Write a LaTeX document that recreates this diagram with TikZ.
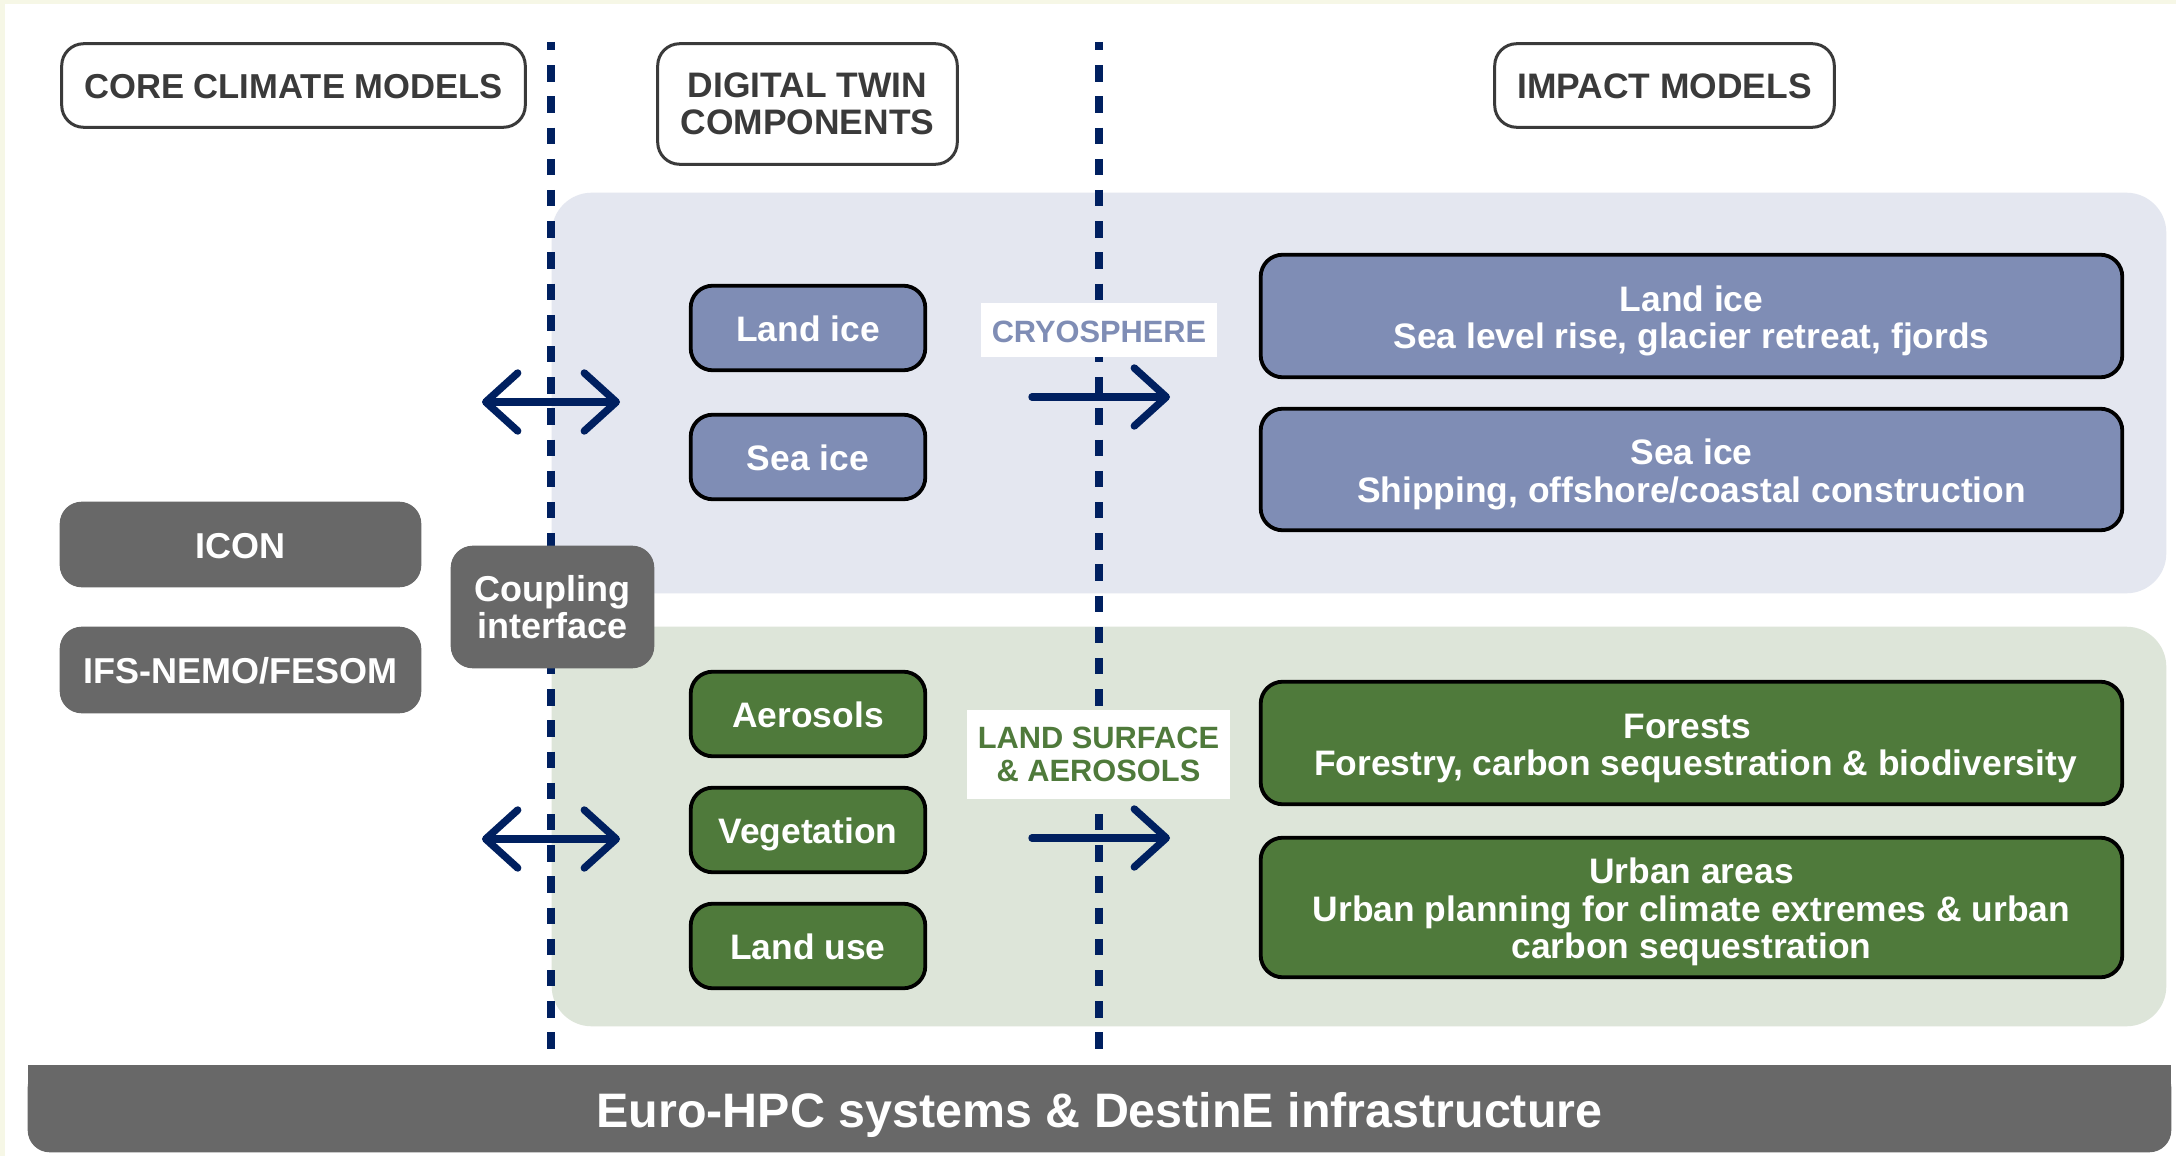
\documentclass[tikz,border=0pt]{standalone}
\usepackage{fontspec}
\setmainfont{Liberation Sans}
\usetikzlibrary{arrows.meta}
\definecolor{navy}{HTML}{002060}
\definecolor{cream}{HTML}{F6F7E6}
\definecolor{bluepanel}{HTML}{E4E7F0}
\definecolor{greenpanel}{HTML}{DDE5D9}
\definecolor{bluebox}{HTML}{7F8DB5}
\definecolor{greenbox}{HTML}{4F7A3B}
\definecolor{greybox}{HTML}{686868}
\definecolor{inkgrey}{HTML}{3A3A3A}
\newcommand{\fsA}{\fontsize{17.7}{18.75}\selectfont\bfseries}
\newcommand{\fsB}{\fontsize{18}{18.75}\selectfont\bfseries}
\newcommand{\fsS}{\fontsize{17.7}{18.75}\selectfont\bfseries}
\newcommand{\fsC}{\fontsize{24.2}{28}\selectfont\bfseries}
\newcommand{\fsL}{\fontsize{15.4}{16.5}\selectfont\bfseries}
\newcommand{\dn}{\rule{0pt}{17.5pt}}
% #1 style, #2 name, #3-#6 x1 y1 x2 y2 in image pixels, #7 text
\newcommand{\pxbox}[7]{%
  \pgfmathsetmacro{\cxx}{(#3+#5)/2}%
  \pgfmathsetmacro{\cyy}{(#4+#6)/2}%
  \pgfmathsetmacro{\www}{(#5-#3)/2-0.7}%
  \pgfmathsetmacro{\hhh}{(#6-#4)/2-0.7}%
  \node[#1,minimum width=\www pt,minimum height=\hhh pt] (#2) at (\cxx,\cyy) {#7};%
}
\tikzset{
  x=0.5pt,y=-0.5pt,
  base/.style={rectangle,align=center,inner sep=0pt,outer sep=0pt,rounded corners=11pt},
  one line/.style={text height=15pt,text depth=1.5pt},
  header/.style={base,draw=inkgrey,line width=1.5pt,fill=white,text=inkgrey,font=\fsA},
  small blue/.style={base,draw=black,line width=1.9pt,fill=bluebox,text=white,font=\fsS},
  small green/.style={base,draw=black,line width=1.9pt,fill=greenbox,text=white,font=\fsS},
  model/.style={base,fill=greybox,text=white,font=\fsB},
  tag/.style={rectangle,fill=white,align=center,inner sep=0pt,font=\fsL},
  divider/.style={draw=navy,line width=3.8pt,dash pattern=on 8.2pt off 7.4pt,dash phase=4pt},
  flow/.style={draw=navy,line width=3.7pt,line cap=round,line join=round},
  panelshape/.style={rectangle,inner sep=0pt,outer sep=0pt,rounded corners=20pt},
}
\begin{document}
\begin{tikzpicture}
\useasboundingbox (0,0) rectangle (2176,1156);
\fill[white] (0,0) rectangle (2176,1156);
\fill[cream] (0,0) rectangle (2176,4.5);
\fill[cream] (0,0) rectangle (5,1156);
% panels
\pxbox{panelshape,fill=bluepanel}{panelblue}{551}{192}{2167}{594}{}
\pxbox{panelshape,fill=greenpanel}{panelgreen}{551}{626}{2167}{1027}{}
% dividers
\coordinate (d1t) at (551,42); \coordinate (d1b) at (551,1051);
\coordinate (d2t) at (1099,42); \coordinate (d2b) at (1099,1051);
\draw[divider] (d1t) -- (d1b);
\draw[divider] (d2t) -- (d2b);
% headers
\pxbox{header,one line,font=\fontsize{17.3}{18.75}\selectfont\bfseries}{hcore}{61}{43}{526}{128}{CORE CLIMATE MODELS}
\pxbox{header}{hdt}{657}{43}{958}{165}{DIGITAL TWIN\\COMPONENTS}
\pxbox{header,one line}{himp}{1494}{43}{1835}{128}{IMPACT MODELS}
% tags
\pxbox{tag,text=bluebox,text height=13.5pt,text depth=1.5pt}{tcryo}{980}{302}{1218}{358}{CRYOSPHERE}
\pxbox{tag,text=greenbox}{tland}{966}{709}{1231}{800}{LAND SURFACE\\\& AEROSOLS}
% arrows
\coordinate (a1l) at (482,402); \coordinate (a1r) at (620,402);
\coordinate (a2l) at (482,839); \coordinate (a2r) at (620,839);
\coordinate (a3l) at (1032,397); \coordinate (a3r) at (1170,397);
\coordinate (a4l) at (1032,838); \coordinate (a4r) at (1170,838);
\tikzset{tip/.tip={Straight Barb[length=16pt,width=29pt,line width=3.7pt,round]}}
\draw[flow,{tip}-{tip}] (a1l) -- (a1r);
\draw[flow,{tip}-{tip}] (a2l) -- (a2r);
\draw[flow,-{tip}] (a3l) -- (a3r);
\draw[flow,-{tip}] (a4l) -- (a4r);
% models
\pxbox{model,one line}{icon}{59}{501}{422}{588}{ICON}
\pxbox{model,one line}{ifs}{59}{626}{422}{714}{IFS-NEMO/FESOM}
\pxbox{model}{coupling}{450}{545}{655}{669}{Coupling\\interface}
% component boxes
\pxbox{small blue,one line}{clandice}{690}{285}{926}{371}{Land ice}
\pxbox{small blue,one line}{cseaice}{690}{414}{926}{500}{Sea ice}
\pxbox{small green,one line}{caero}{690}{671}{926}{757}{Aerosols}
\pxbox{small green,one line}{cveg}{690}{787}{926}{873}{Vegetation}
\pxbox{small green,one line}{cuse}{690}{903}{926}{989}{Land use}
% impact boxes
\pxbox{small blue}{ilandice}{1260}{254}{2123}{378}{\dn Land ice\\Sea level rise, glacier retreat, fjords}
\pxbox{small blue}{iseaice}{1260}{408}{2123}{531}{\dn Sea ice\\Shipping, offshore/coastal construction}
\pxbox{small green}{iforest}{1260}{681}{2123}{805}{\dn Forests\hspace*{4pt}\\\hspace*{4pt}Forestry, carbon sequestration \& biodiversity}
\pxbox{small green}{iurban}{1260}{837}{2123}{978}{\dn Urban areas\\Urban planning for climate extremes \& urban\\carbon sequestration}
% base bar
\fill[greybox] (27.7,1065.2) rectangle (2171.3,1110);
\pxbox{model,font=\fsC,text height=24pt,text depth=5.5pt}{bar}{27}{1064.5}{2172}{1153}{Euro-HPC systems \& DestinE infrastructure}
\end{tikzpicture}
\end{document}
